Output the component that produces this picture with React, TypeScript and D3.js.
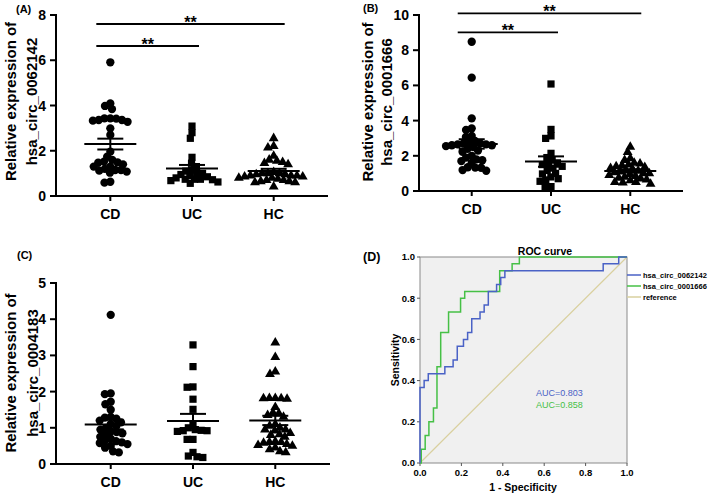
import React from 'react';
import * as d3 from 'd3';

const categories = ['CD', 'UC', 'HC'];

// Panel A: hsa_circ_0062142
const a_CD = [5.91, 4.09, 3.98, 3.84, 3.42, 3.43, 3.36, 3.43, 3.36, 3.33, 3.28, 2.99, 2.70, 1.96, 1.74, 1.60, 1.52, 1.49, 1.47, 1.40, 1.30, 1.30, 1.20, 1.15, 1.15, 1.12, 1.08, 1.03, 0.63, 0.59];
const a_UC = [3.09, 2.80, 2.55, 1.71, 1.45, 1.30, 1.15, 1.10, 1.02, 1.00, 0.95, 0.90, 0.85, 0.80, 0.74, 0.74, 0.74, 0.72, 0.68, 0.62, 0.56];
const a_HC = [2.55, 2.20, 2.14, 1.77, 1.60, 1.55, 1.50, 1.45, 1.40, 1.00, 0.95, 0.90, 0.85, 0.80, 1.05, 1.00, 1.00, 0.95, 0.90, 0.90, 0.85, 0.80, 0.75, 0.70, 0.70, 0.65, 0.65, 0.60, 0.60, 0.41];

// Panel B: hsa_circ_0001666
const b_CD = [8.48, 6.44, 4.13, 3.56, 3.47, 2.85, 3.13, 3.07, 2.40, 2.30, 2.75, 2.70, 2.70, 2.65, 2.65, 2.60, 2.60, 2.55, 2.50, 2.23, 2.00, 1.90, 1.80, 1.75, 1.70, 1.60, 1.35, 1.33, 1.32, 1.19, 1.15];
const b_UC = [6.08, 3.50, 3.13, 2.99, 2.14, 1.90, 1.75, 1.60, 1.50, 1.50, 1.40, 1.30, 1.17, 1.00, 0.97, 0.80, 0.70, 0.63, 0.55, 0.25, 0.25];
const b_HC = [2.50, 2.20, 1.85, 1.75, 1.60, 1.55, 1.50, 1.45, 1.40, 1.35, 1.30, 1.25, 1.20, 1.15, 1.10, 1.05, 1.00, 1.00, 0.95, 0.90, 0.85, 0.80, 0.75, 0.70, 0.65, 0.60, 0.50, 0.50, 0.48, 0.40];

// Panel C: hsa_circ_0004183
const c_CD = [4.12, 1.95, 1.93, 1.72, 1.65, 1.50, 1.30, 1.28, 1.25, 1.20, 1.15, 1.10, 1.05, 1.00, 0.95, 0.90, 0.88, 0.85, 0.82, 0.75, 0.70, 0.65, 0.63, 0.60, 0.58, 0.55, 0.50, 0.45, 0.35, 0.32];
const c_UC = [3.29, 2.69, 2.13, 2.12, 1.79, 1.51, 1.10, 1.00, 0.95, 0.93, 0.92, 0.92, 0.90, 0.68, 0.68, 0.32, 0.22, 0.20, 0.18];
const c_HC = [3.35, 2.95, 2.55, 2.48, 1.82, 1.82, 1.81, 1.81, 1.80, 1.57, 1.42, 1.40, 1.35, 1.30, 1.10, 1.05, 1.00, 0.95, 0.95, 0.92, 0.85, 0.82, 0.80, 0.75, 0.62, 0.60, 0.58, 0.55, 0.52, 0.50, 0.45, 0.35, 0.32, 0.40, 0.60];

const yTicksA = [0, 2, 4, 6, 8];
const yTicksB = [0, 2, 4, 6, 8, 10];
const yTicksC = [0, 1, 2, 3, 4, 5];

const sigPairsA = [['CD', 'UC'], ['CD', 'HC']];
const sigPairsB = [['CD', 'UC'], ['CD', 'HC']];
const sigLabel = '**';

// Panel D: ROC (step corners, curveStepAfter)
const rocBlueFpr = [0, 0, 0.02, 0.04, 0.12, 0.16, 0.18, 0.21, 0.23, 0.25, 0.29, 0.31, 0.33, 0.37, 0.39, 0.41, 0.885, 0.96, 1];
const rocBlueTpr = [0, 0.367, 0.4, 0.433, 0.467, 0.5, 0.567, 0.6, 0.633, 0.7, 0.733, 0.767, 0.833, 0.867, 0.9, 0.933, 0.967, 1, 1];
const rocGreenFpr = [0, 0.006, 0.025, 0.043, 0.065, 0.082, 0.1, 0.138, 0.196, 0.216, 0.385, 0.445, 0.48, 1];
const rocGreenTpr = [0, 0.067, 0.133, 0.2, 0.267, 0.467, 0.633, 0.733, 0.8, 0.833, 0.933, 0.967, 1, 1];
const rocTicks = [0, 0.2, 0.4, 0.6, 0.8, 1.0];
const legendNames = ['hsa_circ_0062142', 'hsa_circ_0001666', 'reference'];
const aucLabels = ['AUC=0.803', 'AUC=0.858'];

const FONT = '"Liberation Sans", Arial, Helvetica, sans-serif';
const BLUE = '#4a62c6';
const GREEN = '#46c046';
const REF = '#d9d09f';

type Pt = { v: number; y: number; x: number };

function swarm(values: number[], yScale: (v: number) => number, diam: number): Pt[] {
  const pts: Pt[] = values.map((v) => ({ v, y: yScale(v), x: 0 }));
  const order = pts.slice().sort((a, b) => b.v - a.v);
  const placed: Pt[] = [];
  for (const p of order) {
    const iv: [number, number][] = [];
    for (const q of placed) {
      const dy = Math.abs(q.y - p.y);
      if (dy < diam) {
        const dx = Math.sqrt(diam * diam - dy * dy);
        iv.push([q.x - dx, q.x + dx]);
      }
    }
    const cands = [0];
    iv.forEach(([a, b]) => cands.push(a, b));
    cands.sort((a, b) => Math.abs(a) - Math.abs(b));
    for (const c of cands) {
      if (iv.every(([a, b]) => c <= a + 1e-6 || c >= b - 1e-6)) {
        p.x = c;
        break;
      }
    }
    placed.push(p);
  }
  return pts;
}

const symbols = [d3.symbolCircle, d3.symbolSquare, d3.symbolTriangle];
const symSizes = [54, 52, 42];

type DotProps = {
  groups: number[][];
  yMax: number;
  yTicks: number[];
  x0: number;
  x1: number;
  yTop: number;
  yBottom: number;
  panel: string;
  panelX: number;
  panelY: number;
  title: string[];
  titleX: number[];
  titleY: number;
  sig?: string[][];
  sigY?: number[];
};

function DotPanel(p: DotProps) {
  const x = d3.scalePoint<string>().domain(categories).range([p.x0, p.x1]).padding(0.665);
  const y = d3.scaleLinear().domain([0, p.yMax]).range([p.yBottom, p.yTop]);
  return (
    <g>
      <text x={p.panelX} y={p.panelY} fontSize={11} fontWeight="bold" fontFamily={FONT}>{p.panel}</text>
      {p.title.map((t, i) => (
        <text key={i} transform={`translate(${p.titleX[i]},${p.titleY}) rotate(-90)`} textAnchor="middle"
          fontSize={15} fontWeight="bold" fontFamily={FONT}>{t}</text>
      ))}
      {/* y axis */}
      <line x1={p.x0} x2={p.x0} y1={p.yBottom + 1} y2={y(p.yMax) - 1} stroke="#000" strokeWidth={2} />
      {p.yTicks.map((t) => (
        <g key={t}>
          <line x1={p.x0 - 6} x2={p.x0} y1={y(t)} y2={y(t)} stroke="#000" strokeWidth={2} />
          <text x={p.x0 - 10} y={y(t)} dy="0.36em" textAnchor="end" fontSize={14} fontWeight="bold" fontFamily={FONT}>{t}</text>
        </g>
      ))}
      {/* x axis */}
      <line x1={p.x0 - 1} x2={p.x1} y1={p.yBottom} y2={p.yBottom} stroke="#000" strokeWidth={2} />
      {categories.map((c) => (
        <g key={c}>
          <line x1={x(c)} x2={x(c)} y1={p.yBottom} y2={p.yBottom + 5} stroke="#000" strokeWidth={2} />
          <text x={x(c)} y={p.yBottom + 23} textAnchor="middle" fontSize={14} fontWeight="bold" fontFamily={FONT}>{c}</text>
        </g>
      ))}
      {/* points */}
      {p.groups.map((vals, gi) => {
        const cx = x(categories[gi]) as number;
        const pts = swarm(vals, (v) => y(v), 5.9);
        const sym = d3.symbol().type(symbols[gi]).size(symSizes[gi])();
        const mean = d3.mean(vals) as number;
        const sem = (d3.deviation(vals) as number) / Math.sqrt(vals.length);
        return (
          <g key={gi}>
            {pts.map((pt, i) => (
              <path key={i} d={sym as string} transform={`translate(${cx + pt.x},${pt.y})`} fill="#000" />
            ))}
            <line x1={cx - 26} x2={cx + 26} y1={y(mean)} y2={y(mean)} stroke="#000" strokeWidth={2} />
            <line x1={cx - 13} x2={cx + 13} y1={y(mean + sem)} y2={y(mean + sem)} stroke="#000" strokeWidth={2} />
            <line x1={cx - 13} x2={cx + 13} y1={y(mean - sem)} y2={y(mean - sem)} stroke="#000" strokeWidth={2} />
            <line x1={cx} x2={cx} y1={y(mean + sem)} y2={y(mean - sem)} stroke="#000" strokeWidth={2} />
          </g>
        );
      })}
      {/* significance */}
      {p.sig && p.sig.map((pair, i) => {
        const xa = (x(pair[0]) as number) - 14;
        const xb = (x(pair[1]) as number) + (pair[1] === 'HC' ? 11 : 7);
        const yy = p.sigY![i];
        return (
          <g key={i}>
            <line x1={xa} x2={xb} y1={yy} y2={yy} stroke="#000" strokeWidth={1.8} />
            <text x={(xa + xb) / 2} y={yy + 4} textAnchor="middle" fontSize={16} fontWeight="bold" fontFamily={FONT}>{sigLabel}</text>
          </g>
        );
      })}
    </g>
  );
}

function RocPanel() {
  const L = 420, R = 627, T = 257, B = 463;
  const x = d3.scaleLinear().domain([0, 1]).range([L, R]);
  const y = d3.scaleLinear().domain([0, 1]).range([B, T]);
  const line = d3.line<[number, number]>().x((d) => x(d[0])).y((d) => y(d[1])).curve(d3.curveStepAfter);
  const blue = rocBlueFpr.map((f, i) => [f, rocBlueTpr[i]] as [number, number]);
  const green = rocGreenFpr.map((f, i) => [f, rocGreenTpr[i]] as [number, number]);
  const legendColors = [BLUE, GREEN, REF];
  return (
    <g fontFamily={FONT}>
      <text x={363} y={261} fontSize={12.5} fontWeight="bold">(D)</text>
      <rect x={L} y={T} width={R - L} height={B - T} fill="#f0f0f0" stroke="#8a8a8a" strokeWidth={1} />
      <text x={545} y={255} textAnchor="middle" fontSize={10.5} fontWeight="bold">ROC curve</text>
      {rocTicks.map((t) => (
        <g key={'y' + t}>
          <line x1={L - 3} x2={L} y1={y(t)} y2={y(t)} stroke="#555" />
          <text x={L - 5} y={y(t)} dy="0.35em" textAnchor="end" fontSize={9.5} fontWeight="bold">{t.toFixed(1)}</text>
        </g>
      ))}
      {rocTicks.map((t) => (
        <g key={'x' + t}>
          <line x1={x(t)} x2={x(t)} y1={B} y2={B + 3} stroke="#555" />
          <text x={x(t)} y={B + 12.5} textAnchor="middle" fontSize={9.5} fontWeight="bold">{t.toFixed(1)}</text>
        </g>
      ))}
      <text transform={`translate(399,360) rotate(-90)`} textAnchor="middle" fontSize={10.5} fontWeight="bold">Sensitivity</text>
      <text x={523} y={491} textAnchor="middle" fontSize={10.5} fontWeight="bold">1 - Specificity</text>
      <line x1={x(0)} y1={y(0)} x2={x(1)} y2={y(1)} stroke={REF} strokeWidth={1.2} />
      <path d={line(green) as string} fill="none" stroke={GREEN} strokeWidth={1.5} />
      <path d={line(blue) as string} fill="none" stroke={BLUE} strokeWidth={1.5} />
      <text x={536} y={395.5} fontSize={9} fill={BLUE}>{aucLabels[0]}</text>
      <text x={536} y={407.5} fontSize={9} fill={GREEN}>{aucLabels[1]}</text>
      {legendNames.map((n, i) => (
        <g key={n}>
          <line x1={627} x2={641} y1={275 + i * 11} y2={275 + i * 11} stroke={legendColors[i]} strokeWidth={1.5} />
          <text x={643} y={275 + i * 11} dy="0.35em" fontSize={7.5} fontWeight="bold">{n}</text>
        </g>
      ))}
    </g>
  );
}

export default function App() {
  return (
    <svg width={709} height={496} style={{ position: 'absolute', left: 0, top: 0, background: '#fff' }}>
      <rect width={709} height={496} fill="#fff" />
      <DotPanel groups={[a_CD, a_UC, a_HC]} yMax={8} yTicks={yTicksA} x0={56} x1={328} yTop={15} yBottom={196}
        panel="(A)" panelX={16} panelY={13} title={['Relative expression of', 'hsa_circ_0062142']} titleX={[15.5, 37]} titleY={101.5}
        sig={sigPairsA} sigY={[46, 24]} />
      <DotPanel groups={[b_CD, b_UC, b_HC]} yMax={10} yTicks={yTicksB} x0={419} x1={683} yTop={15} yBottom={191}
        panel="(B)" panelX={363} panelY={12} title={['Relative expression of', 'hsa_circ_0001666']} titleX={[372.5, 391.5]} titleY={102}
        sig={sigPairsB} sigY={[32.3, 13.3]} />
      <DotPanel groups={[c_CD, c_UC, c_HC]} yMax={5} yTicks={yTicksC} x0={56} x1={330} yTop={283} yBottom={464}
        panel="(C)" panelX={17} panelY={259} title={['Relative expression of', 'hsa_circ_0004183']} titleX={[15.5, 37.5]} titleY={373} />
      <RocPanel />
    </svg>
  );
}
